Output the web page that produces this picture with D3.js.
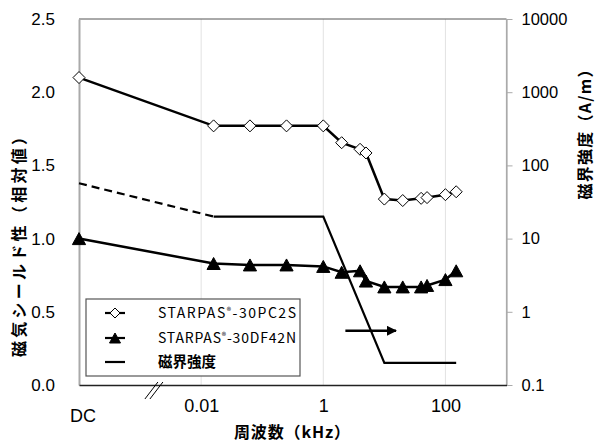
<!DOCTYPE html>
<html>
<head>
<meta charset="utf-8">
<script src="https://cdn.jsdelivr.net/npm/d3@7"></script>
<style>
  body { margin: 0; background: #fff; }
  svg { display: block; }
  .jp { font-family: "Noto Sans CJK JP", sans-serif; font-weight: bold; }
  .num { font-family: "Liberation Sans Narrow", "Liberation Sans", Arial, sans-serif; }
</style>
</head>
<body>
<div id="chart"></div>
<script>
// frequency in kHz, "DC" sits at the left end of the axis
const freqs = ["DC", 0.016, 0.063, 0.25, 1, 2, 4, 5, 10, 20, 40, 50, 100, 150];
const pc2s  = [2.10, 1.77, 1.77, 1.77, 1.77, 1.655, 1.61, 1.585, 1.27, 1.26, 1.275, 1.28, 1.30, 1.32];
const df42n = [1.00, 0.83, 0.82, 0.82, 0.81, 0.77, 0.78, 0.71, 0.67, 0.67, 0.67, 0.68, 0.72, 0.78];

const fieldFreqs = ["DC", 0.016, 1, 10, 150];
const fieldVals  = [57, 20, 20, 0.2, 0.2];

const leftTicks  = [0, 0.5, 1.0, 1.5, 2.0, 2.5];
const rightTicks = [0.1, 1, 10, 100, 1000, 10000];
const xTicks     = [0.01, 1, 100];
const legendNames = ["STARPAS", "STARPAS", "磁界強度"];
const legendSuffix = ["-30PC2S", "-30DF42N", ""];

const W = 595, H = 442;
const margin = {top: 19, right: 88.5, bottom: 57, left: 79};

const svg = d3.select('#chart')
  .append('svg')
    .attr('width', W)
    .attr('height', H);

const x = d3.scaleLog()
  .domain([1e-4, 1e3])
  .range([margin.left, W - margin.right]);
const yL = d3.scaleLinear()
  .domain([0, 2.5])
  .range([H - margin.bottom, margin.top]);
const yR = d3.scaleLog()
  .domain([0.1, 10000])
  .range([H - margin.bottom, margin.top]);

const fx = f => f === "DC" ? x(1e-4) : x(f);

// vertical grid
svg.append('g').selectAll('line')
  .data(xTicks)
  .enter().append('line')
    .attr('x1', d => x(d)).attr('x2', d => x(d))
    .attr('y1', yL(2.5)).attr('y2', yL(0))
    .attr('stroke', '#e2e2e2').attr('stroke-width', 1);

// frame
svg.append('line')
  .attr('x1', x(1e-4)).attr('x2', x(1e3))
  .attr('y1', yL(2.5)).attr('y2', yL(2.5))
  .attr('stroke', '#555');
svg.append('line')
  .attr('x1', x(1e3)).attr('x2', x(1e3))
  .attr('y1', yL(2.5)).attr('y2', yL(0))
  .attr('stroke', '#aaa').attr('stroke-width', 1.2);

// left axis
const leftAxis = svg.append('g')
  .attr('transform', `translate(${x(1e-4)},0)`)
  .call(d3.axisLeft(yL).tickValues(leftTicks).tickFormat(d3.format('.1f')).tickSize(0).tickPadding(24));
leftAxis.select('.domain').attr('stroke', '#aaa').attr('stroke-width', 2);
leftAxis.selectAll('text')
  .attr('class', 'num')
  .attr('font-size', 17)
  .attr('fill', '#000');

// right axis
const rightAxis = svg.append('g')
  .attr('transform', `translate(${x(1e3)},0)`)
  .call(d3.axisRight(yR).tickValues(rightTicks).tickFormat(d => String(d)).tickSize(6).tickSizeOuter(0).tickPadding(9));
rightAxis.select('.domain').attr('stroke', '#aaa').attr('stroke-width', 1.2);
rightAxis.selectAll('.tick line').attr('stroke', '#aaa');
rightAxis.selectAll('text')
  .attr('font-family', '"Liberation Sans", Arial, sans-serif')
  .attr('font-size', 16.5)
  .attr('fill', '#000');

// bottom axis
const bottomAxis = svg.append('g')
  .attr('transform', `translate(0,${yL(0)})`)
  .call(d3.axisBottom(x).tickValues(xTicks).tickFormat(d => String(d)).tickSize(0).tickPadding(14));
bottomAxis.select('.domain').attr('stroke', '#222').attr('stroke-width', 1.5);
bottomAxis.selectAll('text')
  .attr('class', 'num')
  .attr('font-size', 18)
  .attr('fill', '#000');
svg.append('text')
  .attr('class', 'num')
  .attr('x', fx("DC") + 4).attr('y', yL(0) + 37)
  .attr('text-anchor', 'middle')
  .attr('font-size', 18)
  .text('DC');

// axis break mark
[0, 5].forEach(dx => {
  svg.append('line')
    .attr('x1', x(0.0012) + dx).attr('y1', yL(0) + 14)
    .attr('x2', x(0.0012) + dx + 13).attr('y2', yL(0) - 3)
    .attr('stroke', '#000').attr('stroke-width', 1);
});

// axis titles
svg.append('text')
  .attr('class', 'jp')
  .attr('transform', `translate(25,${(yL(2.5) + yL(0)) / 2 + 41}) rotate(-90)`)
  .attr('text-anchor', 'middle')
  .attr('font-size', 16)
  .attr('textLength', 228)
  .attr('lengthAdjust', 'spacing')
  .text('磁気シールド性（相対値）');
svg.append('text')
  .attr('class', 'jp')
  .attr('transform', `translate(591,${yR(300)}) rotate(-90)`)
  .attr('text-anchor', 'middle')
  .attr('font-size', 16)
  .attr('textLength', 138)
  .attr('lengthAdjust', 'spacing')
  .text('磁界強度（A/m）');
svg.append('text')
  .attr('class', 'jp')
  .attr('x', 292).attr('y', 438)
  .attr('text-anchor', 'middle')
  .attr('font-size', 16)
  .attr('textLength', 116)
  .attr('lengthAdjust', 'spacing')
  .text('周波数（kHz）');

// field strength line
const fieldPts = fieldFreqs.map((f, i) => [fx(f), yR(fieldVals[i])]);
const line = d3.line();
svg.append('path')
  .attr('d', line(fieldPts.slice(0, 2)))
  .attr('fill', 'none').attr('stroke', '#000').attr('stroke-width', 2.2)
  .attr('stroke-dasharray', '8,5');
svg.append('path')
  .attr('d', line(fieldPts.slice(1)))
  .attr('fill', 'none').attr('stroke', '#000').attr('stroke-width', 2.2);

// triangle with its box centred on the point
const tri = {
  draw(ctx, size) {
    const s = Math.sqrt(size);
    ctx.moveTo(0, -s * 0.5);
    ctx.lineTo(s * 0.55, s * 0.5);
    ctx.lineTo(-s * 0.55, s * 0.5);
    ctx.closePath();
  }
};
const diamond = {
  draw(ctx, size) {
    const s = Math.sqrt(size) / 2;
    ctx.moveTo(0, -s);
    ctx.lineTo(s, 0);
    ctx.lineTo(0, s);
    ctx.lineTo(-s, 0);
    ctx.closePath();
  }
};

function series(vals, type, fill) {
  const pts = freqs.map((f, i) => [fx(f), yL(vals[i])]);
  svg.append('path')
    .attr('d', line(pts))
    .attr('fill', 'none').attr('stroke', '#000').attr('stroke-width', 2.5);
  svg.append('g').selectAll('path')
    .data(pts)
    .enter().append('path')
      .attr('transform', d => `translate(${d[0]},${d[1]})`)
      .attr('d', d3.symbol().type(type).size(144))
      .attr('fill', fill)
      .attr('stroke', '#000').attr('stroke-width', 1);
}
series(pc2s, diamond, '#fff');
series(df42n, tri, '#000');

// arrow towards the right axis
const arrowY = yR(0.55);
svg.append('defs').append('marker')
  .attr('id', 'ah')
  .attr('viewBox', '0 0 10 10').attr('refX', 9).attr('refY', 5)
  .attr('markerWidth', 4).attr('markerHeight', 4).attr('orient', 'auto')
  .append('path').attr('d', 'M0,0L10,5L0,10z').attr('fill', '#000');
svg.append('line')
  .attr('x1', x(2.3)).attr('x2', x(15.5))
  .attr('y1', arrowY).attr('y2', arrowY)
  .attr('stroke', '#000').attr('stroke-width', 2.5)
  .attr('marker-end', 'url(#ah)');

// legend
const lg = svg.append('g').attr('transform', 'translate(86,299)');
lg.append('rect')
  .attr('width', 214).attr('height', 77)
  .attr('fill', '#fff').attr('stroke', '#555').attr('stroke-width', 1.2);
const rows = [14, 39, 63];
const types = [diamond, tri, null];
const fills = ['#fff', '#000', null];
rows.forEach((ry, i) => {
  lg.append('line')
    .attr('x1', 19).attr('x2', 39).attr('y1', ry).attr('y2', ry)
    .attr('stroke', '#000').attr('stroke-width', 2.2);
  if (types[i]) {
    lg.append('path')
      .attr('transform', `translate(29,${ry})`)
      .attr('d', d3.symbol().type(types[i]).size(100))
      .attr('fill', fills[i]).attr('stroke', '#000');
  }
  const t = lg.append('text')
    .attr('x', 72).attr('y', ry + 5);
  if (i < 2) {
    t.attr('font-family', '"Noto Sans CJK JP", sans-serif').attr('font-size', 14);
    t.append('tspan').text(legendNames[i]);
    t.append('tspan').attr('font-size', 9).attr('dy', -4).text('®');
    t.append('tspan').attr('dy', 4).text(legendSuffix[i]);
    t.attr('textLength', 138).attr('lengthAdjust', 'spacing');
  } else {
    t.attr('class', 'jp').attr('font-size', 14.5).text(legendNames[i]);
  }
});
</script>
</body>
</html>
